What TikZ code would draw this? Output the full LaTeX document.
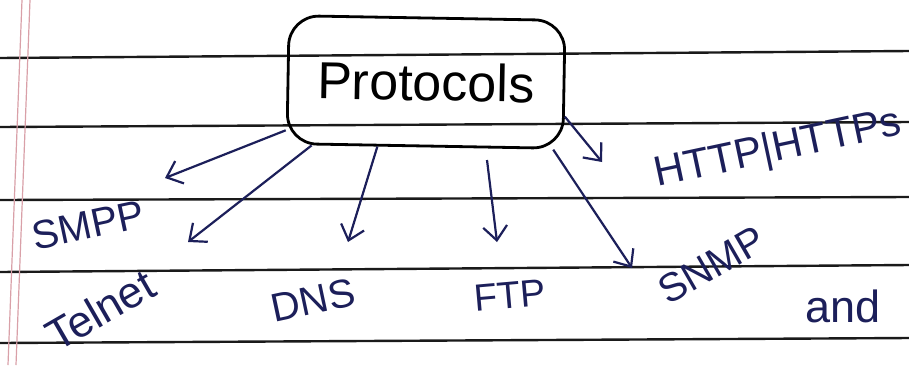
\documentclass[tikz,border=0pt]{standalone}
\usepackage{fontspec}
\setmainfont{Liberation Sans}
\usetikzlibrary{arrows.meta}
\definecolor{ink}{HTML}{1C1F5A}
\definecolor{rule}{HTML}{1A1A1A}
\definecolor{margin}{HTML}{D9A0A8}
\tikzset{
  x=1pt,y=-1pt,
  ruling/.style={draw=rule,line width=2.4pt},
  marginline/.style={draw=margin,line width=1.2pt},
  mainbox/.style={draw=black,line width=2.8pt,rounded corners=30pt,minimum width=276pt,minimum height=128pt,inner sep=0pt,font=\fontsize{52}{52}\selectfont,text=black},
  link/.style={draw=ink,line width=2.2pt,-{Straight Barb[length=14pt,width=24pt,line width=2.2pt]}},
  lbl/.style={text=ink,inner sep=0pt}
}
\begin{document}
\begin{tikzpicture}
\useasboundingbox (0,0) rectangle (909,365);
\fill[white] (0,0) rectangle (909,365);
% ruled lines
\draw[ruling] (0,58) -- (909,51);
\draw[ruling] (0,127) -- (909,122);
\draw[ruling] (0,200) -- (909,197);
\draw[ruling] (0,272) -- (909,265);
\draw[ruling] (0,343) -- (909,338);
% margin
\draw[marginline] (22,0) -- (8,365);
\draw[marginline] (30,0) -- (16,365);
% central box
\node[mainbox,rotate=-1] (proto) at (426,82) {Protocols};
% arrow end points
\coordinate (esmpp) at (165,178);
\coordinate (etelnet) at (188,242);
\coordinate (edns) at (348,242);
\coordinate (sftp) at (487,160);
\coordinate (eftp) at (497,242);
\coordinate (esnmp) at (632,268);
\coordinate (ehttp) at (602,162);
% connectors
\draw[link] (proto.200) -- (esmpp);
\draw[link] (proto.210) -- (etelnet);
\draw[link] (proto.234) -- (edns);
\draw[link] (sftp) -- (eftp);
\draw[link] (proto.333) -- (esnmp);
\draw[link] (proto.347) -- (ehttp);
% labels
\node[lbl,rotate=12,font=\fontsize{40}{40}\selectfont] (smpp) at (88,225) {SMPP};
\node[lbl,rotate=30,font=\fontsize{44}{44}\selectfont] (telnet) at (100,310) {Telnet};
\node[lbl,rotate=12,font=\fontsize{40}{40}\selectfont] (dns) at (313,300) {DNS};
\node[lbl,rotate=5,font=\fontsize{38}{38}\selectfont] (ftp) at (510,295) {FTP};
\node[lbl,rotate=30,font=\fontsize{40}{40}\selectfont] (snmp) at (712,265) {SNMP};
\node[lbl,rotate=12,font=\fontsize{42}{42}\selectfont] (http) at (778,150) {HTTP|HTTPs};
\node[lbl,font=\fontsize{45}{45}\selectfont] (and) at (843,306) {and};
\end{tikzpicture}
\end{document}
